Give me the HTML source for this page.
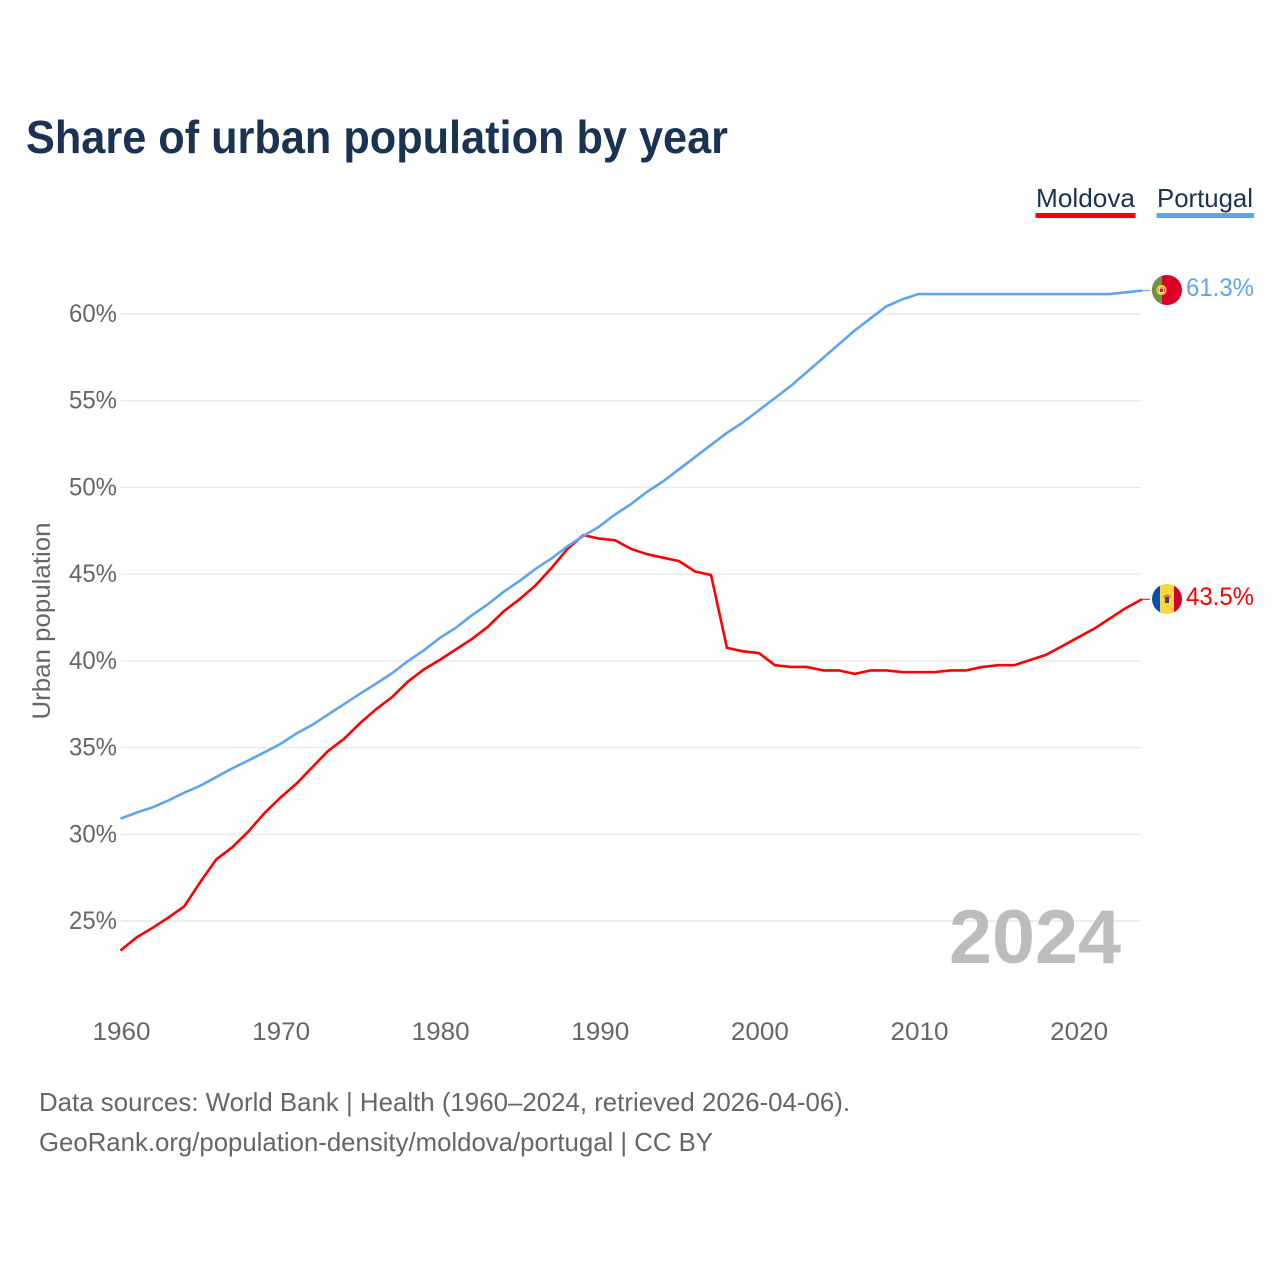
<!DOCTYPE html>
<html lang="en">
<head>
<meta charset="utf-8">
<title>Share of urban population by year</title>
<style>
html,body{margin:0;padding:0;background:#fff;}
svg{display:block;font-family:"Liberation Sans",sans-serif;}
</style>
</head>
<body>
<svg id="chart" xmlns="http://www.w3.org/2000/svg" width="1280" height="1280" viewBox="0 0 1280 1280">
  <rect width="1280" height="1280" fill="#fff"/>
  <text x="26" y="153" font-size="46" font-weight="700" fill="#1a3353" textLength="702" lengthAdjust="spacingAndGlyphs">Share of urban population by year</text>

  <g>
    <text x="1036" y="207" font-size="26" fill="#1a3353" textLength="99" lengthAdjust="spacingAndGlyphs">Moldova</text>
    <rect x="1035.5" y="213" width="100" height="5" fill="#ff0000"/>
  </g>
  <g>
    <text x="1157" y="207" font-size="26" fill="#1a3353" textLength="96" lengthAdjust="spacingAndGlyphs">Portugal</text>
    <rect x="1156.5" y="213" width="97.5" height="5" fill="#5fa5ec"/>
  </g>

  <text transform="translate(50,621) rotate(-90)" text-anchor="middle" font-size="25" fill="#666" textLength="197" lengthAdjust="spacingAndGlyphs">Urban population</text>

  <g id="grid"></g>
  <g id="y-ticks"></g>
  <g id="x-ticks"></g>

  <text x="949" y="963" font-size="76" font-weight="700" fill="#bdbdbd" textLength="172" lengthAdjust="spacingAndGlyphs">2024</text>

  <g id="series"></g>

  <defs>
    <clipPath id="clip-pt"><circle cx="1167" cy="290" r="15"/></clipPath>
    <clipPath id="clip-md"><circle cx="1167" cy="599" r="15"/></clipPath>
  </defs>
  <g clip-path="url(#clip-pt)">
    <rect x="1152" y="275" width="30" height="30" fill="#dc0028"/>
    <rect x="1152" y="275" width="10" height="30" fill="#6d9440"/>
    <circle cx="1161.5" cy="290" r="4.2" fill="none" stroke="#f6d23c" stroke-width="1.8"/>
    <rect x="1159.5" y="288" width="4" height="4.4" fill="#d3212f" stroke="#fff" stroke-width="0.8"/>
  </g>
  <g clip-path="url(#clip-md)">
    <rect x="1152" y="584" width="10" height="30" fill="#0a50a8"/>
    <rect x="1160" y="584" width="14" height="30" fill="#fcd53f"/>
    <rect x="1174" y="584" width="8" height="30" fill="#d4002c"/>
    <path d="M1163 596 L1167 594 L1171 596 L1169 599 L1165 599 Z" fill="#c78a3a"/>
    <rect x="1165" y="597" width="4" height="3" fill="#c8102e"/>
    <rect x="1165" y="600" width="4" height="3" fill="#0a50a8"/>
  </g>

  <text id="label-pt" x="1186" y="296" font-size="25" fill="#5fa5ec" textLength="68" lengthAdjust="spacingAndGlyphs">61.3%</text>
  <text id="label-md" x="1186" y="605" font-size="25" fill="#ff0000" textLength="68" lengthAdjust="spacingAndGlyphs">43.5%</text>

  <text x="39" y="1111" font-size="26" fill="#666" textLength="811" lengthAdjust="spacingAndGlyphs">Data sources: World Bank | Health (1960–2024, retrieved 2026-04-06).</text>
  <text x="39" y="1151" font-size="26" fill="#666" textLength="674" lengthAdjust="spacingAndGlyphs">GeoRank.org/population-density/moldova/portugal | CC BY</text>
</svg>
<script>
const startYear = 1960;
const yTickValues = [25, 30, 35, 40, 45, 50, 55, 60];
const xTickValues = [1960, 1970, 1980, 1990, 2000, 2010, 2020];
const portugal = [30.9, 31.25, 31.55, 31.95, 32.4, 32.8, 33.3, 33.8, 34.25, 34.72, 35.2, 35.8, 36.3, 36.9, 37.5, 38.1, 38.68, 39.28, 39.98, 40.6, 41.32, 41.9, 42.62, 43.25, 43.98, 44.6, 45.3, 45.9, 46.6, 47.2, 47.75, 48.45, 49.05, 49.75, 50.35, 51.05, 51.75, 52.45, 53.15, 53.75, 54.45, 55.15, 55.85, 56.65, 57.45, 58.25, 59.05, 59.75, 60.45, 60.85, 61.15, 61.15, 61.15, 61.15, 61.15, 61.15, 61.15, 61.15, 61.15, 61.15, 61.15, 61.15, 61.15, 61.25, 61.35];
const moldova = [23.3, 24.05, 24.6, 25.2, 25.85, 27.25, 28.55, 29.25, 30.15, 31.2, 32.1, 32.9, 33.85, 34.8, 35.5, 36.4, 37.2, 37.9, 38.8, 39.5, 40.05, 40.65, 41.25, 41.95, 42.85, 43.55, 44.35, 45.35, 46.45, 47.25, 47.05, 46.95, 46.45, 46.15, 45.95, 45.75, 45.15, 44.95, 40.75, 40.55, 40.45, 39.75, 39.65, 39.65, 39.45, 39.45, 39.25, 39.45, 39.45, 39.35, 39.35, 39.35, 39.45, 39.45, 39.65, 39.75, 39.75, 40.05, 40.35, 40.85, 41.35, 41.85, 42.45, 43.05, 43.55];

const NS = 'http://www.w3.org/2000/svg';
function xScale(year) { return 120.5 + (year - 1960) * 15.96; }
function yScale(value) { return 314 + (60 - value) * 17.343; }

const gridGroup = document.getElementById('grid');
const yGroup = document.getElementById('y-ticks');
const xGroup = document.getElementById('x-ticks');
const seriesGroup = document.getElementById('series');

yTickValues.forEach(function (v) {
  const line = document.createElementNS(NS, 'line');
  
  
  line.setAttribute('x1', 121);
  line.setAttribute('x2', 1141);
  line.setAttribute('y1', yScale(v));
  line.setAttribute('y2', yScale(v));
  line.setAttribute('stroke', '#e9e9e9');
  line.setAttribute('stroke-width', '1.4');
  gridGroup.appendChild(line);

  const label = document.createElementNS(NS, 'text');
  
  
  label.setAttribute('x', 117);
  label.setAttribute('y', yScale(v) + 8);
  label.setAttribute('text-anchor', 'end');
  label.setAttribute('font-size', '25');
  label.setAttribute('fill', '#666');
  label.setAttribute('textLength', '48');
  label.setAttribute('lengthAdjust', 'spacingAndGlyphs');
  label.textContent = v + '%';
  yGroup.appendChild(label);
});

xTickValues.forEach(function (y) {
  const label = document.createElementNS(NS, 'text');
  
  
  label.setAttribute('x', xScale(y) + 1);
  label.setAttribute('y', 1040);
  label.setAttribute('text-anchor', 'middle');
  label.setAttribute('font-size', '25');
  label.setAttribute('fill', '#666');
  label.setAttribute('textLength', '58');
  label.setAttribute('lengthAdjust', 'spacingAndGlyphs');
  label.textContent = y;
  xGroup.appendChild(label);
});

function pathFor(values) {
  return values.map(function (v, i) {
    return (i ? 'L' : 'M') + xScale(startYear + i).toFixed(2) + ' ' + yScale(v).toFixed(2);
  }).join(' ');
}

const moldovaLine = document.createElementNS(NS, 'path');


moldovaLine.setAttribute('d', pathFor(moldova));
moldovaLine.setAttribute('fill', 'none');
moldovaLine.setAttribute('stroke', '#ff0000');
moldovaLine.setAttribute('stroke-width', '2.6');
moldovaLine.setAttribute('stroke-linejoin', 'round');
seriesGroup.appendChild(moldovaLine);

const portugalLine = document.createElementNS(NS, 'path');


portugalLine.setAttribute('d', pathFor(portugal));
portugalLine.setAttribute('fill', 'none');
portugalLine.setAttribute('stroke', '#5fa5ec');
portugalLine.setAttribute('stroke-width', '2.6');
portugalLine.setAttribute('stroke-linejoin', 'round');
seriesGroup.appendChild(portugalLine);

const moldovaConnector = document.createElementNS(NS, 'line');


moldovaConnector.setAttribute('x1', xScale(2024));
moldovaConnector.setAttribute('x2', 1150);
moldovaConnector.setAttribute('y1', yScale(moldova[moldova.length - 1]));
moldovaConnector.setAttribute('y2', yScale(moldova[moldova.length - 1]));
moldovaConnector.setAttribute('stroke', '#ff0000');
moldovaConnector.setAttribute('stroke-width', '1');
seriesGroup.appendChild(moldovaConnector);

const portugalConnector = document.createElementNS(NS, 'line');


portugalConnector.setAttribute('x1', xScale(2024));
portugalConnector.setAttribute('x2', 1150);
portugalConnector.setAttribute('y1', yScale(portugal[portugal.length - 1]));
portugalConnector.setAttribute('y2', yScale(portugal[portugal.length - 1]));
portugalConnector.setAttribute('stroke', '#5fa5ec');
portugalConnector.setAttribute('stroke-width', '1');
seriesGroup.appendChild(portugalConnector);
</script>
</body>
</html>
